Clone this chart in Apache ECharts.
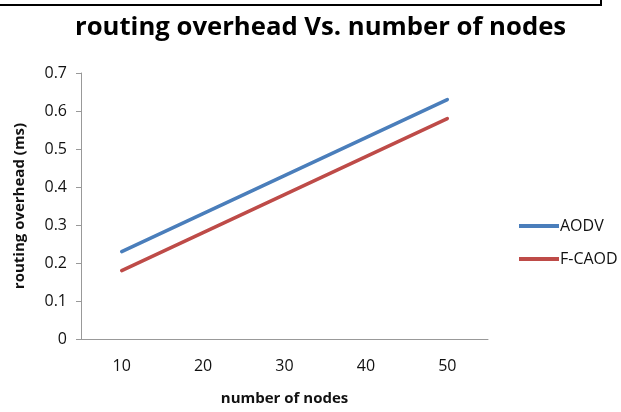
<!DOCTYPE html>
<html><head><meta charset="utf-8">
<script src="https://cdn.jsdelivr.net/npm/echarts@6/dist/echarts.min.js"></script>
<style>html,body{margin:0;padding:0;background:#fff}#c{width:621px;height:412px}</style>
</head><body><div id="c"></div>
<script>
const categories = ['10','20','30','40','50'];
const aodv = [0.23, 0.33, 0.43, 0.53, 0.63];
const fcaod = [0.18, 0.28, 0.38, 0.48, 0.58];
const yTicks = [0, 0.1, 0.2, 0.3, 0.4, 0.5, 0.6, 0.7];

const F = "'Open Sans', 'Liberation Sans', sans-serif";
const chart = echarts.init(document.getElementById('c'));
chart.setOption({
  animation: false,
  title: {
    text: 'routing overhead Vs. number of nodes',
    left: 70, top: 10,
    textStyle: {fontFamily: F, fontSize: 25.7, fontWeight: 'bold', color: '#000'}
  },
  graphic: [{
    type: 'polyline', shape: {points: [[0,5],[601,5],[601,0]]},
    style: {stroke: '#000', lineWidth: 2, fill: null}
  }],
  legend: {
    orient: 'vertical', left: 514, top: 213, itemGap: 17,
    itemWidth: 40, itemHeight: 4, icon: 'rect',
    textStyle: {fontFamily: F, fontSize: 16, color: '#111', padding: [0,0,0,-4]},
    data: ['AODV', 'F-CAOD']
  },
  grid: {left: 81, right: 133, top: 73, bottom: 73, containLabel: false},
  xAxis: {
    type: 'category', data: categories, boundaryGap: true,
    name: 'number of nodes', nameLocation: 'middle', nameGap: 52,
    nameTextStyle: {fontFamily: F, fontSize: 15, fontWeight: 'bold', color: '#111'},
    axisLine: {lineStyle: {color: '#999', width: 1}},
    axisTick: {show: false},
    axisLabel: {fontFamily: F, fontSize: 16, color: '#111', margin: 19}
  },
  yAxis: {
    type: 'value', min: 0, max: 0.7, interval: 0.1,
    name: 'routing overhead (ms)', nameLocation: 'middle', nameGap: 54,
    nameTextStyle: {fontFamily: F, fontSize: 15, fontWeight: 'bold', color: '#111'},
    axisLine: {show: true, lineStyle: {color: '#999', width: 1}},
    axisTick: {show: true, length: 5, lineStyle: {color: '#999'}},
    splitLine: {show: false},
    axisLabel: {fontFamily: F, fontSize: 16, color: '#111', margin: 14,
      formatter: v => { const t = yTicks.find(x => Math.abs(x - v) < 1e-9); return t === undefined ? '' : String(t); }}
  },
  series: [
    {name: 'AODV', type: 'line', data: aodv, symbol: 'none',
     lineStyle: {color: '#4A7EBB', width: 3.5, cap: 'round'}, itemStyle: {color: '#4A7EBB'}},
    {name: 'F-CAOD', type: 'line', data: fcaod, symbol: 'none',
     lineStyle: {color: '#BE4B48', width: 3.5, cap: 'round'}, itemStyle: {color: '#BE4B48'}}
  ]
});
</script></body></html>
